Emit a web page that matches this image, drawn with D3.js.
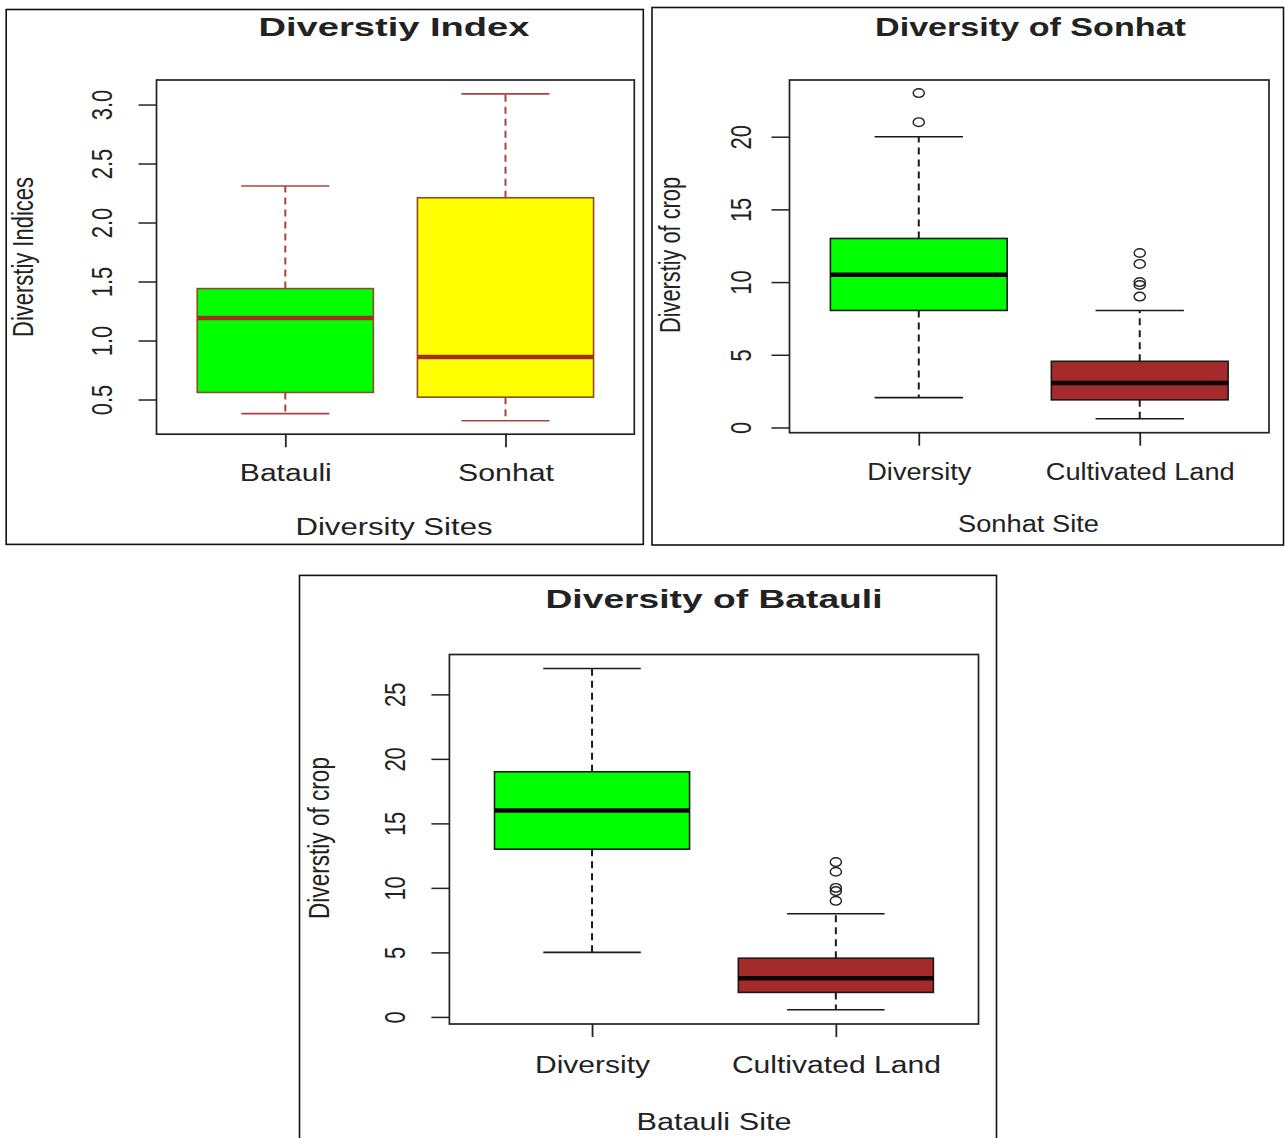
<!DOCTYPE html>
<html><head><meta charset="utf-8">
<script src="https://cdn.jsdelivr.net/npm/d3@7"></script>
<style>
body{margin:0;background:#fff;}
svg{display:block;}
text{font-family:"Liberation Sans",Arial,Helvetica,sans-serif;fill:#222;}
</style>
</head><body>
<svg id="chart" width="1285" height="1138"></svg>
<script>
// ---------- Panel 1: Diverstiy Index ----------
const indexSites  = ["Batauli", "Sonhat"];
const indexLow    = [0.38, 0.32];
const indexQ1     = [0.56, 0.52];
const indexMedian = [1.19, 0.86];
const indexQ3     = [1.44, 2.21];
const indexHigh   = [2.31, 3.09];
const indexOutliers = [[], []];
const indexFills  = ["#00ff00", "#ffff00"];
const indexTicks  = [0.5, 1.0, 1.5, 2.0, 2.5, 3.0];
const indexRange  = [0.206, 3.208];

// ---------- Panel 2: Diversity of Sonhat ----------
const sonhatGroups   = ["Diversity", "Cultivated Land"];
const sonhatLow      = [2.05, 0.6];
const sonhatQ1       = [8.05, 1.9];
const sonhatMedian   = [10.5, 3.05];
const sonhatQ3       = [13, 4.55];
const sonhatHigh     = [20, 8.05];
const sonhatOutliers = [[21, 23], [9, 9.8, 10, 11.25, 12]];
const sonhatFills    = ["#00ff00", "#a52a2a"];
const sonhatTicks    = [0, 5, 10, 15, 20];
const sonhatRange    = [-0.36, 23.9];

// ---------- Panel 3: Diversity of Batauli ----------
const batauliGroups   = ["Diversity", "Cultivated Land"];
const batauliLow      = [5, 0.55];
const batauliQ1       = [13, 1.9];
const batauliMedian   = [16, 3];
const batauliQ3       = [19, 4.55];
const batauliHigh     = [27, 8];
const batauliOutliers = [[], [9, 9.75, 10, 11.25, 12]];
const batauliFills    = ["#00ff00", "#a52a2a"];
const batauliTicks    = [0, 5, 10, 15, 20, 25];
const batauliRange    = [-0.55, 28.09];

const svg = d3.select("#chart");
const SX = 1.3; // horizontal stretch of the original picture

function drawPanel(p) {
  const g = svg.append("g");
  g.append("rect")
    .attr("x", p.frame[0]).attr("y", p.frame[1])
    .attr("width", p.frame[2] - p.frame[0]).attr("height", p.frame[3] - p.frame[1])
    .attr("fill", "none").attr("stroke", "#111").attr("stroke-width", 1.6);

  const x = d3.scalePoint().domain(p.groups).range([p.plot[0], p.plot[2]]).padding(0.585);
  const y = d3.scaleLinear().domain(p.range).range([p.plot[3], p.plot[1]]);
  const step = x.step();
  const boxW = step * 0.8, capW = step * 0.4;

  p.groups.forEach((name, i) => {
    const cx = x(name);
    const bg = g.append("g");
    [[p.q3[i], p.high[i]], [p.q1[i], p.low[i]]].forEach(([a, b]) => {
      bg.append("line").attr("x1", cx).attr("x2", cx).attr("y1", y(a)).attr("y2", y(b))
        .attr("stroke", p.whiskerColor).attr("stroke-width", 2)
        .attr("stroke-dasharray", p.dash);
      bg.append("line").attr("x1", cx - capW / 2).attr("x2", cx + capW / 2)
        .attr("y1", y(b)).attr("y2", y(b))
        .attr("stroke", p.whiskerColor).attr("stroke-width", 1.6);
    });
    bg.append("rect")
      .attr("x", cx - boxW / 2).attr("width", boxW)
      .attr("y", y(p.q3[i])).attr("height", y(p.q1[i]) - y(p.q3[i]))
      .attr("fill", p.fills[i]).attr("stroke", p.boxStroke).attr("stroke-width", 1.6);
    bg.append("line").attr("x1", cx - boxW / 2).attr("x2", cx + boxW / 2)
      .attr("y1", y(p.median[i])).attr("y2", y(p.median[i]))
      .attr("stroke", p.medianColor).attr("stroke-width", 4.5);
    bg.selectAll("ellipse.out").data(p.outliers[i]).enter().append("ellipse")
      .attr("class", "out")
      .attr("cx", cx).attr("cy", d => y(d))
      .attr("rx", 5.6).attr("ry", 4.3)
      .attr("fill", "none").attr("stroke", "#222").attr("stroke-width", 1.4);
  });

  g.append("rect")
    .attr("x", p.plot[0]).attr("y", p.plot[1])
    .attr("width", p.plot[2] - p.plot[0]).attr("height", p.plot[3] - p.plot[1])
    .attr("fill", "none").attr("stroke", "#222").attr("stroke-width", 1.7);

  // y axis
  const ya = g.append("g").attr("transform", `translate(${p.plot[0]},0)`)
    .call(d3.axisLeft(y).tickValues(p.ticks).tickSize(18).tickFormat(p.fmt));
  ya.select(".domain").remove();
  ya.selectAll(".tick line").attr("stroke", "#222").attr("stroke-width", 1.5);
  ya.selectAll(".tick text")
    .attr("x", 0).attr("y", 0).attr("dy", 0)
    .attr("text-anchor", "middle")
    .attr("font-size", 22)
    .attr("font-family", "Liberation Sans, Arial, sans-serif")
    .attr("fill", "#2a2a2a")
    .attr("transform", `translate(${p.tickBaseX - p.plot[0]},0) scale(${SX},1) rotate(-90)`);

  // x axis
  const xa = g.append("g").attr("transform", `translate(0,${p.plot[3]})`)
    .call(d3.axisBottom(x).tickSize(13));
  xa.select(".domain").remove();
  xa.selectAll(".tick line").attr("stroke", "#222").attr("stroke-width", 1.8);
  xa.selectAll(".tick text")
    .attr("y", p.xLabelBase - p.plot[3]).attr("dy", 0)
    .attr("font-size", 23)
    .attr("font-family", "Liberation Sans, Arial, sans-serif")
    .attr("fill", "#2a2a2a")
    .attr("textLength", (d, i) => p.xLabelWidths[i])
    .attr("lengthAdjust", "spacingAndGlyphs");

  // title
  g.append("text").attr("x", p.title.x).attr("y", p.title.base)
    .attr("text-anchor", "middle").attr("font-size", 25.5).attr("font-weight", "bold")
    .attr("fill", "#111")
    .attr("textLength", p.title.w).attr("lengthAdjust", "spacingAndGlyphs")
    .text(p.title.text);
  // x title
  g.append("text").attr("x", p.xTitle.x).attr("y", p.xTitle.base)
    .attr("text-anchor", "middle").attr("font-size", 23)
    .attr("fill", "#2a2a2a")
    .attr("textLength", p.xTitle.w).attr("lengthAdjust", "spacingAndGlyphs")
    .text(p.xTitle.text);
  // y title
  g.append("text")
    .attr("transform", `translate(${p.yTitle.baseX},${p.yTitle.cy}) scale(${SX},1) rotate(-90)`)
    .attr("text-anchor", "middle").attr("font-size", 22)
    .attr("fill", "#2a2a2a")
    .attr("textLength", p.yTitle.len).attr("lengthAdjust", "spacingAndGlyphs")
    .text(p.yTitle.text);
}

drawPanel({
  frame: [6.2, 9.5, 643.3, 544.4],
  plot: [156.5, 80, 634.3, 434.2],
  groups: indexSites, low: indexLow, q1: indexQ1, median: indexMedian, q3: indexQ3, high: indexHigh,
  outliers: indexOutliers, fills: indexFills, ticks: indexTicks, range: indexRange,
  fmt: d3.format(".1f"),
  whiskerColor: "#a8443f", boxStroke: "#8f4a2a", medianColor: "#a0301c", dash: "7,5",
  tickBaseX: 112,
  xLabelBase: 481, xLabelWidths: [92, 96],
  title: {text: "Diverstiy Index", x: 394, base: 36, w: 271},
  xTitle: {text: "Diversity Sites", x: 394, base: 535, w: 197},
  yTitle: {text: "Diverstiy Indices", baseX: 33, cy: 257, len: 160}
});

drawPanel({
  frame: [652, 7.5, 1283.5, 545],
  plot: [789.5, 80, 1269, 432.7],
  groups: sonhatGroups, low: sonhatLow, q1: sonhatQ1, median: sonhatMedian, q3: sonhatQ3, high: sonhatHigh,
  outliers: sonhatOutliers, fills: sonhatFills, ticks: sonhatTicks, range: sonhatRange,
  fmt: d3.format("d"),
  whiskerColor: "#1a1a1a", boxStroke: "#1a1a1a", medianColor: "#0d0000", dash: "7,5",
  tickBaseX: 751,
  xLabelBase: 480, xLabelWidths: [104, 189],
  title: {text: "Diversity of Sonhat", x: 1030.5, base: 36, w: 311},
  xTitle: {text: "Sonhat Site", x: 1028.5, base: 532, w: 141},
  yTitle: {text: "Diverstiy of crop", baseX: 680, cy: 255, len: 156}
});

drawPanel({
  frame: [299.5, 575.4, 996.5, 1145],
  plot: [449.4, 654.5, 978.5, 1024],
  groups: batauliGroups, low: batauliLow, q1: batauliQ1, median: batauliMedian, q3: batauliQ3, high: batauliHigh,
  outliers: batauliOutliers, fills: batauliFills, ticks: batauliTicks, range: batauliRange,
  fmt: d3.format("d"),
  whiskerColor: "#1a1a1a", boxStroke: "#1a1a1a", medianColor: "#0d0000", dash: "7,5",
  tickBaseX: 405,
  xLabelBase: 1073, xLabelWidths: [115, 209],
  title: {text: "Diversity of Batauli", x: 714, base: 608, w: 337},
  xTitle: {text: "Batauli Site", x: 714, base: 1129.5, w: 155},
  yTitle: {text: "Diverstiy of crop", baseX: 329, cy: 838, len: 162}
});
</script>
</body></html>
